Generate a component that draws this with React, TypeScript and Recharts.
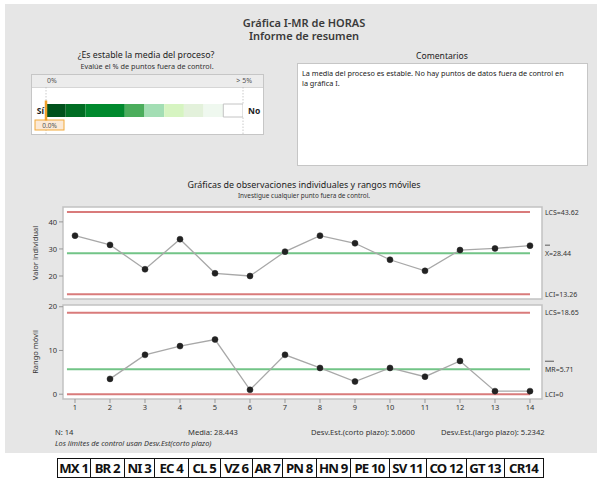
import React from 'react';
import { LineChart, Line, XAxis, YAxis, ReferenceLine, ReferenceArea, BarChart, Bar } from 'recharts';

// ---------- data ----------
const observations = [1, 2, 3, 4, 5, 6, 7, 8, 9, 10, 11, 12, 13, 14];
const individualValues = [34.9, 31.5, 22.5, 33.6, 21.0, 20.0, 29.0, 34.9, 32.1, 26.0, 21.9, 29.6, 30.2, 31.2];
const movingRanges: (number | null)[] = [null, 3.5, 9.0, 11.0, 12.5, 1.0, 9.0, 6.0, 2.9, 6.0, 4.0, 7.6, 0.7, 0.7];
const iLimitValues = [43.62, 28.44, 13.26]; // LCS, X̄, LCI
const mrLimitValues = [18.65, 5.71, 0]; // LCS, MR̄, LCI
const iTicks = [20, 30, 40];
const mrTicks = [0, 10, 20];
const gaugeBands = [0.5, 0.5, 1, 0.5, 0.5, 0.5, 0.5, 0.5, 0.5];
const gaugeColors = ['#00511c', '#006d23', '#00892e', '#4bad5c', '#a3deb4', '#d6f4c1', '#e3f1db', '#eff8ef', '#ffffff'];
const outOfControlPct = 0;
const countryLabels = ['MX 1', 'BR 2', 'NI 3', 'EC 4', 'CL 5', 'VZ 6', 'AR 7', 'PN 8', 'HN 9', 'PE 10', 'SV 11', 'CO 12', 'GT 13', 'CR14'];
const countryWidths = [31.5, 33.5, 28.5, 33.5, 30.5, 31.5, 28.5, 33.5, 32.5, 38, 36, 39, 37, 38];
const statTexts = ['N: 14', 'Media: 28.443', 'Desv.Est.(corto plazo): 5.0600', 'Desv.Est.(largo plazo): 5.2342'];

const iData = observations.map((o, i) => ({ obs: o, value: individualValues[i] }));
const mrData = observations.map((o, i) => ({ obs: o, mr: movingRanges[i] }));
const gaugeRow: Record<string, any> = { name: 'g' };
gaugeBands.forEach((b, i) => (gaugeRow['b' + i] = b));
const gaugeData = [gaugeRow];

const FONT = '"Noto Sans", "Open Sans", sans-serif';
const X_DOMAIN: [number, number] = [0.657, 14.343];
const LINE_START = 0.77;
const RED = '#d97b7b';
const GREEN = '#72c487';
const TXT = '#333';

const axisLabel = (text: string) => (props: any) => {
  const vb = props.viewBox || {};
  const cx = (vb.x || 0) + 35;
  const cy = (vb.y || 0) + (vb.height || 0) / 2;
  return (
    <text x={cx} y={cy} transform={`rotate(-90 ${cx} ${cy})`} textAnchor="middle" dominantBaseline="central" fontSize={7.5} fill={TXT}>
      {text}
    </text>
  );
};

const barLabel = (sym: string, value: string) => (props: any) => {
  const vb = props.viewBox || {};
  const x = vb.x + vb.width + 15;
  const y = vb.y;
  const w = sym === 'X' ? 5 : 9;
  return (
    <g>
      <line x1={x} x2={x + w} y1={y - 8} y2={y - 8} stroke={TXT} strokeWidth={0.8} />
      <text x={x} y={y} dominantBaseline="central" fontSize={7} fill={TXT}>
        {sym + '=' + value}
      </text>
    </g>
  );
};

const rightLabel = (value: string) => ({ value, position: 'right' as const, offset: 15, fontSize: 7, fill: TXT });

const ControlChart = ({ data, dataKey, domain, ticks, limits, label, centerSym, showX, height, top }: any) => (
  <div style={{ position: 'absolute', left: 0, top }}>
    <LineChart width={597} height={height} data={data} margin={{ top: 7, right: 55, bottom: showX ? 0 : 1, left: 0 }}>
      <XAxis
        type="number"
        dataKey="obs"
        domain={X_DOMAIN}
        allowDataOverflow
        hide={!showX}
        ticks={observations}
        interval={0}
        axisLine={false}
        tickSize={4}
        tickLine={{ stroke: '#999' }}
        tick={{ fontSize: 7.5, fill: TXT }}
        height={20}
      />
      <YAxis
        type="number"
        domain={domain}
        allowDataOverflow
        ticks={ticks}
        width={63}
        axisLine={false}
        tickSize={4}
        tickLine={{ stroke: '#999' }}
        tick={{ fontSize: 7.5, fill: TXT }}
        label={axisLabel(label)}
      />
      <ReferenceArea
        x1={X_DOMAIN[0]}
        x2={X_DOMAIN[1]}
        y1={domain[0]}
        y2={domain[1]}
        fill="#ffffff"
        fillOpacity={1}
        stroke="#c2c2c2"
        strokeWidth={1.5}
        ifOverflow="visible"
      />
      <ReferenceLine
        segment={[{ x: LINE_START, y: limits[0] }, { x: 14, y: limits[0] }]}
        stroke={RED}
        strokeWidth={2}
        ifOverflow="visible"
        label={rightLabel('LCS=' + limits[0].toFixed(2))}
      />
      <ReferenceLine
        segment={[{ x: LINE_START, y: limits[1] }, { x: 14, y: limits[1] }]}
        stroke={GREEN}
        strokeWidth={2}
        ifOverflow="visible"
        label={barLabel(centerSym, limits[1].toFixed(2))}
      />
      <ReferenceLine
        segment={[{ x: LINE_START, y: limits[2] }, { x: 14, y: limits[2] }]}
        stroke={RED}
        strokeWidth={2}
        ifOverflow="visible"
        label={rightLabel('LCI=' + (limits[2] === 0 ? '0' : limits[2].toFixed(2)))}
      />
      <Line
        dataKey={dataKey}
        stroke="#a8a8a8"
        strokeWidth={1.3}
        dot={{ r: 3, fill: '#222', stroke: '#222', strokeWidth: 0.5 }}
        isAnimationActive={false}
      />
    </LineChart>
  </div>
);

const Gauge = () => {
  const dashShape = (p: any) => {
    const cy = (p.y1 + p.y2) / 2;
    return (
      <g stroke="#bcbcbc" strokeWidth={0.8} strokeDasharray="1.5 1.5">
        <line x1={p.x1} x2={p.x2} y1={Math.min(p.y1, p.y2)} y2={cy - 7} />
        <line x1={p.x1} x2={p.x2} y1={cy + 7} y2={Math.max(p.y1, p.y2)} />
      </g>
    );
  };
  const markerShape = (p: any) => {
    const cy = (p.y1 + p.y2) / 2;
    return (
      <g>
        <rect x={p.x1 - 11} y={cy + 9.5} width={29} height={10} fill="#fbe9d6" stroke="#f2a93b" strokeWidth={1} />
        <text x={p.x1 + 3.5} y={cy + 14.8} textAnchor="middle" dominantBaseline="central" fontSize={6.5} fill="#555">
          {outOfControlPct.toFixed(1) + '%'}
        </text>
        <line x1={p.x1} x2={p.x2} y1={cy - 10} y2={cy + 10} stroke="#f0a02c" strokeWidth={2.5} />
      </g>
    );
  };
  return (
    <div style={{ position: 'absolute', left: 31, top: 74 }}>
      <BarChart width={232} height={60} data={gaugeData} layout="vertical" margin={{ top: 13, right: 20, bottom: 0, left: 15 }} barCategoryGap={0}>
        <XAxis type="number" domain={[0, 5]} hide allowDataOverflow />
        <YAxis type="category" dataKey="name" hide />
        {gaugeBands.map((_, i) => (
          <Bar
            key={i}
            dataKey={'b' + i}
            stackId="g"
            fill={gaugeColors[i]}
            barSize={13}
            stroke={i === gaugeBands.length - 1 ? '#c4c4c4' : 'none'}
            strokeWidth={1}
            isAnimationActive={false}
          />
        ))}
        <ReferenceLine x={0} shape={dashShape} ifOverflow="visible" />
        <ReferenceLine x={5} shape={dashShape} ifOverflow="visible" />
        <ReferenceLine x={outOfControlPct} shape={markerShape} ifOverflow="visible" />
      </BarChart>
    </div>
  );
};

export default function App() {
  return (
    <div style={{ position: 'absolute', left: 0, top: 0, width: 597, height: 480, background: '#fff', fontFamily: FONT, overflow: 'hidden' }}>
      {/* gray panel */}
      <div style={{ position: 'absolute', left: 5, top: 4, width: 592, height: 449, background: '#e6e6e6' }} />
      {/* gauge box */}
      <div style={{ position: 'absolute', left: 31, top: 74, width: 231, height: 59, background: '#fff', border: '1px solid #c6c6c6' }} />
      <div style={{ position: 'absolute', left: 32, top: 75, width: 231, height: 12, background: '#ececec', borderBottom: '1px solid #d6d6d6' }} />
      {/* comments box */}
      <div style={{ position: 'absolute', left: 297, top: 63, width: 289, height: 101, background: '#fff', border: '1px solid #c6c6c6' }} />

      <Gauge />

      <ControlChart
        data={iData}
        dataKey="value"
        domain={[11.5, 45.5]}
        ticks={iTicks}
        limits={iLimitValues}
        label="Valor individual"
        centerSym="X"
        showX={false}
        height={100}
        top={200}
      />
      <ControlChart
        data={mrData}
        dataKey="mr"
        domain={[-1.1, 20.4]}
        ticks={mrTicks}
        limits={mrLimitValues}
        label="Rango móvil"
        centerSym="MR"
        showX={true}
        height={121}
        top={298}
      />

      {/* texts */}
      <svg width={597} height={480} style={{ position: 'absolute', left: 0, top: 0, pointerEvents: 'none' }} fontFamily={FONT}>
        <text x={304} y={26.5} textAnchor="middle" fontSize={11} fontWeight={600} fill="#3a3a3a">Gráfica I-MR de HORAS</text>
        <text x={304} y={40} textAnchor="middle" fontSize={11} fontWeight={600} fill="#3a3a3a">Informe de resumen</text>

        <text x={146} y={58} textAnchor="middle" fontSize={8.8} fill="#222">¿Es estable la media del proceso?</text>
        <text x={147} y={68.5} textAnchor="middle" fontSize={7.3} fill="#333">Evalúe el % de puntos fuera de control.</text>
        <text x={47} y={83} fontSize={7} fill="#555">0%</text>
        <text x={252} y={83} textAnchor="end" fontSize={7} fill="#555">&gt; 5%</text>
        <text x={44} y={113.5} textAnchor="end" fontSize={8.5} fontWeight={700} fill="#222">Sí</text>
        <text x={248} y={113.5} fontSize={8.5} fontWeight={700} fill="#222">No</text>

        <text x={442} y={59} textAnchor="middle" fontSize={8.6} fill="#222">Comentarios</text>
        <text x={302} y={76} fontSize={7.3} fill="#222">La media del proceso es estable. No hay puntos de datos fuera de control en</text>
        <text x={302} y={86} fontSize={7.3} fill="#222">la gráfica I.</text>

        <text x={304} y={188} textAnchor="middle" fontSize={8.9} fill="#222">Gráficas de observaciones individuales y rangos móviles</text>
        <text x={304} y={198} textAnchor="middle" fontSize={6.4} fill="#333">Investigue cualquier punto fuera de control.</text>

        <text x={55} y={435} fontSize={7.6} fill="#333">{statTexts[0]}</text>
        <text x={188} y={435} fontSize={7.6} fill="#333">{statTexts[1]}</text>
        <text x={311} y={435} fontSize={7.6} fill="#333">{statTexts[2]}</text>
        <text x={441} y={435} fontSize={7.6} fill="#333">{statTexts[3]}</text>
        <text x={55} y={446} fontSize={7.4} fontStyle="italic" fill="#333">Los límites de control usan Desv.Est(corto plazo)</text>
      </svg>

      {/* bottom table */}
      <div style={{ position: 'absolute', left: 57, top: 458, display: 'flex', border: '1.5px solid #111', background: '#fff' }}>
        {countryLabels.map((c, i) => (
          <div
            key={c}
            style={{
              width: countryWidths[i],
              height: 18,
              lineHeight: '18px',
              textAlign: 'center',
              fontWeight: 700,
              fontSize: 13.2,
              letterSpacing: -0.8,
              color: '#111',
              borderLeft: i === 0 ? 'none' : '1.5px solid #111',
              whiteSpace: 'nowrap',
              overflow: 'hidden',
            }}
          >
            {c}
          </div>
        ))}
      </div>
    </div>
  );
}
